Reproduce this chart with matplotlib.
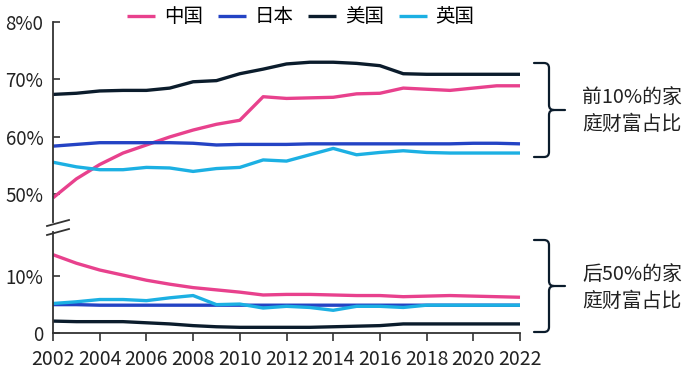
import matplotlib.pyplot as plt
from matplotlib.path import Path
from matplotlib.patches import PathPatch

plt.rcParams["font.family"] = ["Noto Sans CJK SC", "DejaVu Sans"]

years = list(range(2002, 2023))
countries = ["中国", "日本", "美国", "英国"]
colors = ["#E8418D", "#2443C4", "#0B1C2C", "#1CB0E3"]

# top 10% share of household wealth
top_china = [49.4, 52.7, 55.2, 57.2, 58.6, 60.0, 61.2, 62.2, 62.9, 67.0, 66.7,
             66.8, 66.9, 67.5, 67.6, 68.5, 68.3, 68.1, 68.5, 68.9, 68.9]
top_japan = [58.4, 58.7, 59.0, 59.0, 59.0, 59.0, 58.9, 58.6, 58.7, 58.7, 58.7,
             58.8, 58.8, 58.8, 58.8, 58.8, 58.8, 58.8, 58.9, 58.9, 58.8]
top_usa = [67.4, 67.6, 68.0, 68.1, 68.1, 68.5, 69.6, 69.8, 71.0, 71.8, 72.7,
           73.0, 73.0, 72.8, 72.4, 71.0, 70.9, 70.9, 70.9, 70.9, 70.9]
top_uk = [55.6, 54.8, 54.3, 54.3, 54.7, 54.6, 54.0, 54.5, 54.7, 56.0, 55.8,
          56.9, 58.0, 56.9, 57.3, 57.6, 57.3, 57.2, 57.2, 57.2, 57.2]

# bottom 50% share of household wealth
bot_china = [13.8, 12.3, 11.1, 10.2, 9.3, 8.6, 8.0, 7.6, 7.2, 6.7, 6.8,
             6.8, 6.7, 6.6, 6.6, 6.4, 6.5, 6.6, 6.5, 6.4, 6.3]
bot_japan = [5.0, 5.0, 4.9, 4.9, 4.9, 4.9, 4.9, 4.9, 4.9, 4.9, 4.9,
             4.9, 4.9, 4.9, 4.9, 4.9, 4.9, 4.9, 4.9, 4.9, 4.9]
bot_usa = [2.1, 2.0, 2.0, 2.0, 1.8, 1.6, 1.3, 1.1, 1.0, 1.0, 1.0,
           1.0, 1.1, 1.2, 1.3, 1.6, 1.6, 1.6, 1.6, 1.6, 1.6]
bot_uk = [5.2, 5.5, 5.9, 5.9, 5.7, 6.2, 6.6, 5.0, 5.1, 4.4, 4.7,
          4.5, 4.0, 4.7, 4.7, 4.5, 4.9, 4.9, 4.9, 4.9, 4.9]

top_ticks = [50, 60, 70, 80]
top_labels = ["50%", "60%", "70%", "8%0"]
bot_ticks = [0, 10]
bot_labels = ["0", "10%"]
x_ticks = list(range(2002, 2023, 2))

W, H = 700, 380
fig = plt.figure(figsize=(7, 3.8), dpi=100)


def px(x, y):
    return x / W, 1 - y / H


spine_c = "#333333"
ax_top = fig.add_axes([53 / W, 1 - 222 / H, 467 / W, 200 / H])
ax_bot = fig.add_axes([53 / W, 1 - 333 / H, 467 / W, 101 / H])

for ax, series in [(ax_top, [top_china, top_japan, top_usa, top_uk]),
                   (ax_bot, [bot_china, bot_japan, bot_usa, bot_uk])]:
    for name, vals, c in zip(countries, series, colors):
        ax.plot(years, vals, color=c, lw=2.4, label=name, clip_on=False,
                solid_capstyle="butt")
    ax.set_xlim(2002, 2022)
    for s in ["top", "right"]:
        ax.spines[s].set_visible(False)
    ax.spines["left"].set_color(spine_c)
    ax.spines["left"].set_linewidth(1.3)
    ax.tick_params(axis="y", direction="in", length=5, width=1.2,
                   color=spine_c, labelsize=13.5, pad=7, labelcolor="#222222")

ax_top.set_ylim(45.2, 80)
ax_top.set_yticks(top_ticks)
ax_top.set_yticklabels(top_labels)
ax_top.spines["bottom"].set_visible(False)
ax_top.set_xticks([])

ax_bot.set_ylim(0, 17.8)
ax_bot.set_yticks(bot_ticks)
ax_bot.set_yticklabels(bot_labels)
ax_bot.spines["bottom"].set_color(spine_c)
ax_bot.spines["bottom"].set_linewidth(1.3)
ax_bot.set_xticks(x_ticks)
ax_bot.tick_params(axis="x", direction="out", length=6, width=1.2,
                   color=spine_c, labelsize=14, pad=5.5, labelcolor="#222222")

# break marks on the y axis
for yb in [223, 232]:
    x0, y0 = px(47, yb + 3)
    x1, y1 = px(69, yb - 3)
    fig.add_artist(plt.Line2D([x0, x1], [y0, y1], color=spine_c, lw=1.3))


def brace(y_top, y_bot, xl=534, xv=549, xt=565, r=5):
    ym = (y_top + y_bot) / 2
    pts = [(xl, y_top), (xv - r, y_top), (xv, y_top), (xv, y_top + r),
           (xv, ym - r), (xv, ym), (xv + r, ym), (xt, ym),
           (xv + r, ym), (xv, ym), (xv, ym + r),
           (xv, y_bot - r), (xv, y_bot), (xv - r, y_bot), (xl, y_bot)]
    codes = [Path.MOVETO, Path.LINETO, Path.CURVE3, Path.CURVE3,
             Path.LINETO, Path.CURVE3, Path.CURVE3, Path.LINETO,
             Path.MOVETO, Path.CURVE3, Path.CURVE3,
             Path.LINETO, Path.CURVE3, Path.CURVE3, Path.LINETO]
    path = Path([px(x, y) for x, y in pts], codes)
    fig.add_artist(PathPatch(path, fill=False, lw=1.6, color="#0B1C2C",
                             transform=fig.transFigure, capstyle="round",
                             joinstyle="round"))


brace(63, 157)
brace(240, 332)

fig.text(*px(582, 111), "前10%的家\n庭财富占比", fontsize=14.3, va="center",
         ha="left", linespacing=1.35, color="#222222")
fig.text(*px(582, 288), "后50%的家\n庭财富占比", fontsize=14.3, va="center",
         ha="left", linespacing=1.35, color="#222222")

handles, labels = ax_top.get_legend_handles_labels()
fig.legend(handles, labels, loc="center", bbox_to_anchor=px(301, 17),
           ncol=4, frameon=False, fontsize=14, handlelength=1.45,
           handletextpad=0.45, columnspacing=0.75, borderpad=0)

fig.savefig("out.png", dpi=100)
